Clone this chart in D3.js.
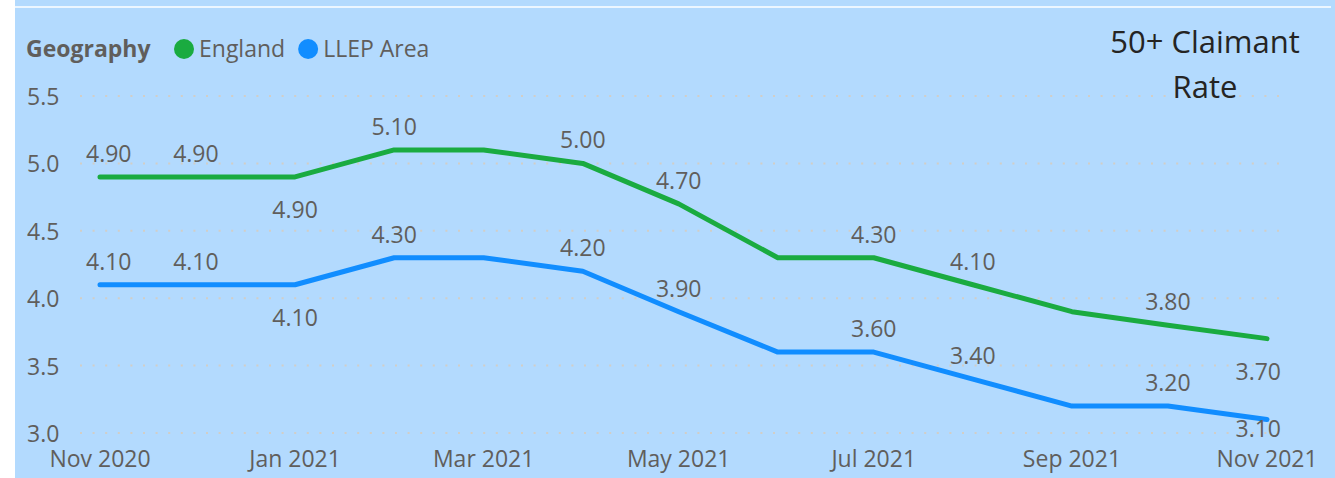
<!DOCTYPE html>
<html>
<head>
<meta charset="utf-8">
<script src="https://cdn.jsdelivr.net/npm/d3@7"></script>
<style>
  body { margin: 0; background: #fff; }
  text { font-family: "Segoe UI", "Open Sans", sans-serif; }
</style>
</head>
<body>
<div id="chart"></div>
<script>
const width = 1335;
const height = 478;

const months = ["2020-11", "2020-12", "2021-01", "2021-02", "2021-03", "2021-04", "2021-05",
    "2021-06", "2021-07", "2021-08", "2021-09", "2021-10", "2021-11"];
const england = [4.9, 4.9, 4.9, 5.1, 5.1, 5.0, 4.7, 4.3, 4.3, 4.1, 3.9, 3.8, 3.7];
const llep = [4.1, 4.1, 4.1, 4.3, 4.3, 4.2, 3.9, 3.6, 3.6, 3.4, 3.2, 3.2, 3.1];
// which points get a data label, and whether it sits below the line
const labelShown = [1, 1, 1, 1, 0, 1, 1, 0, 1, 1, 0, 1, 1];
const labelBelow = [0, 0, 1, 0, 0, 0, 0, 0, 0, 0, 0, 0, 1];
const yTicks = [3.0, 3.5, 4.0, 4.5, 5.0, 5.5];
const xTicks = ["2020-11", "2021-01", "2021-03", "2021-05", "2021-07", "2021-09", "2021-11"];

const series = [
    { name: "England", color: "#1AAB40", values: england },
    { name: "LLEP Area", color: "#118DFF", values: llep }
];

const parse = d3.timeParse("%Y-%m");
const dates = months.map(parse);
const fontSize = 23;
const textColor = "#605E5C";

const svg = d3.select("#chart")
    .append("svg")
    .attr("width", width)
    .attr("height", height);

// card background
svg.append("rect")
    .attr("x", 15).attr("y", 0)
    .attr("width", width - 15).attr("height", height)
    .attr("fill", "#B3DAFE");
svg.append("line")
    .attr("x1", 15).attr("x2", 1331)
    .attr("y1", 7).attr("y2", 7)
    .attr("stroke", "#fff").attr("stroke-width", 1.5);

const x = d3.scaleTime().domain(d3.extent(dates)).range([100, 1267]);
const y = d3.scaleLinear().domain([3.0, 5.5]).range([433, 96]);

// keep a centred text inside [lo, hi]
function clampX(sel, lo, hi) {
    sel.each(function () {
        const t = d3.select(this);
        const w = this.getComputedTextLength();
        let cx = +t.attr("x");
        if (cx - w / 2 < lo) cx = lo + w / 2;
        if (cx + w / 2 > hi) cx = hi - w / 2;
        t.attr("x", cx);
    });
}

// gridlines
svg.append("g")
    .selectAll("line")
    .data(yTicks)
    .join("line")
    .attr("x1", 80).attr("x2", 1282)
    .attr("y1", d => y(d)).attr("y2", d => y(d))
    .attr("stroke", "#D2CEC6")
    .attr("stroke-width", 2)
    .attr("stroke-dasharray", "2 10.6");

// y axis labels
svg.append("g")
    .selectAll("text")
    .data(yTicks)
    .join("text")
    .attr("x", 27)
    .attr("y", d => y(d) + 9)
    .attr("font-size", fontSize)
    .attr("fill", textColor)
    .text(d => d3.format(".1f")(d));

// x axis labels
svg.append("g")
    .selectAll("text")
    .data(xTicks.map(parse))
    .join("text")
    .attr("x", d => x(d))
    .attr("y", 467)
    .attr("text-anchor", "middle")
    .attr("font-size", fontSize)
    .attr("fill", textColor)
    .text(d3.timeFormat("%b %Y"))
    .call(clampX, 48, 1318);

const line = d3.line()
    .x((d, i) => x(dates[i]))
    .y(d => y(d));

series.forEach(s => {
    svg.append("path")
        .datum(s.values)
        .attr("d", line)
        .attr("fill", "none")
        .attr("stroke", s.color)
        .attr("stroke-width", 5)
        .attr("stroke-linejoin", "round")
        .attr("stroke-linecap", "round");

    svg.append("g")
        .selectAll("text")
        .data(s.values.map((v, i) => ({ v, i })).filter(d => labelShown[d.i]))
        .join("text")
        .attr("x", d => x(dates[d.i]))
        .attr("y", d => labelBelow[d.i] ? Math.min(y(d.v) + 41, 437) : y(d.v) - 15)
        .attr("text-anchor", "middle")
        .attr("font-size", fontSize)
        .attr("fill", textColor)
        .text(d => d3.format(".2f")(d.v))
        .call(clampX, 86, 1281);
});

// legend
const legend = svg.append("g").attr("transform", "translate(26,57)");
legend.append("text")
    .attr("font-size", fontSize)
    .attr("font-weight", "bold")
    .attr("fill", textColor)
    .text("Geography");
let lx = 173;
series.forEach(s => {
    legend.append("circle")
        .attr("cx", lx - 15).attr("cy", -8)
        .attr("r", 10)
        .attr("fill", s.color);
    const t = legend.append("text")
        .attr("x", lx)
        .attr("font-size", fontSize)
        .attr("fill", textColor)
        .text(s.name);
    lx += t.node().getComputedTextLength() + 38;
});

// title
svg.append("g")
    .selectAll("text")
    .data(["50+ Claimant", "Rate"])
    .join("text")
    .attr("x", 1205)
    .attr("y", (d, i) => 53 + i * 45)
    .attr("text-anchor", "middle")
    .attr("font-size", 31)
    .attr("fill", "#252423")
    .text(d => d);
</script>
</body>
</html>
